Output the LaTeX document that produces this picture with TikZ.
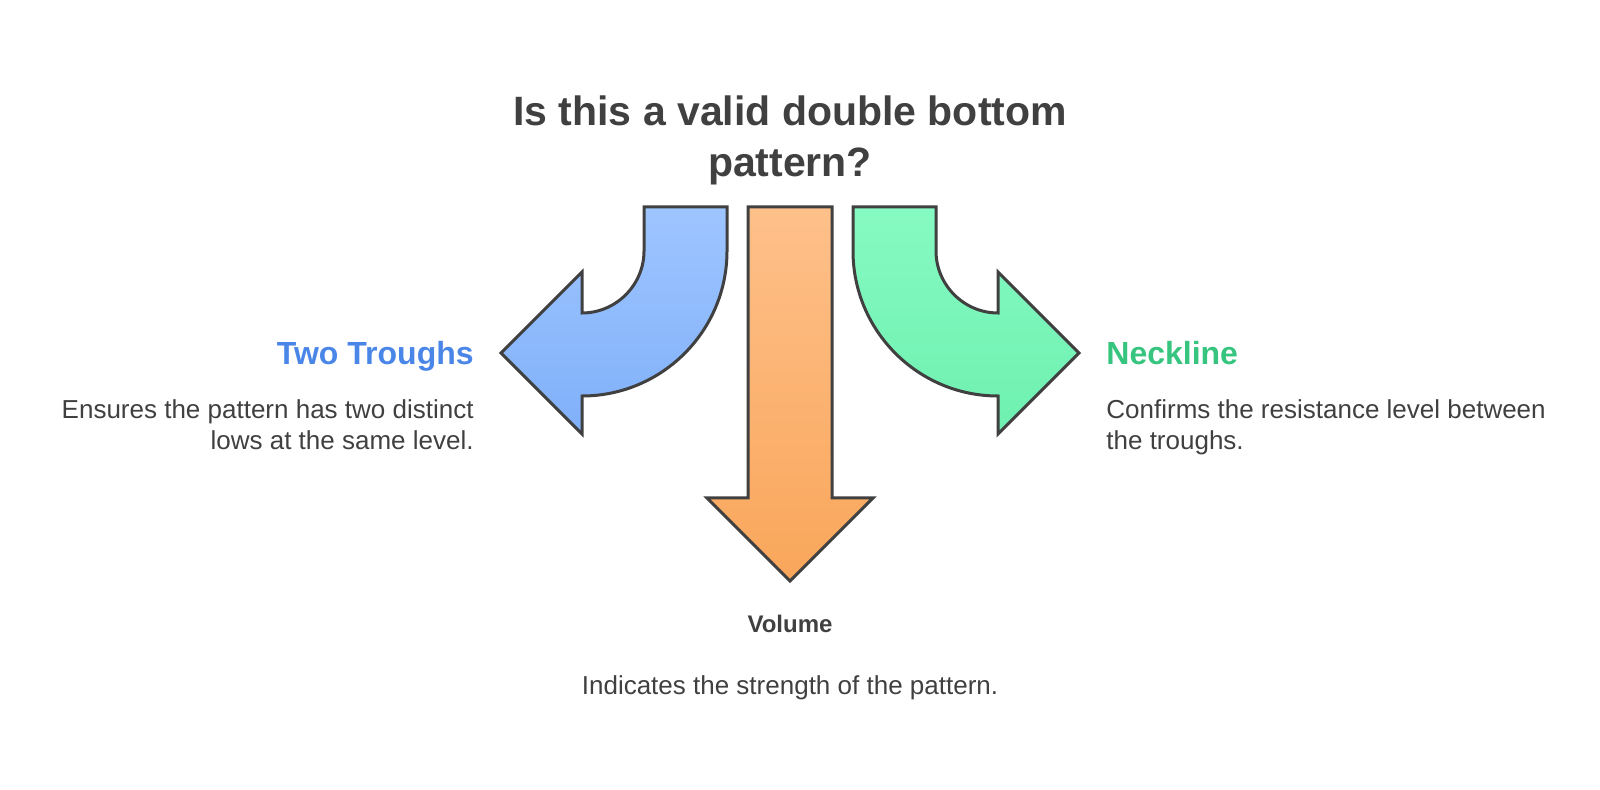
\documentclass[tikz,border=0pt]{standalone}
\usepackage{fontspec}
\setmainfont{Liberation Sans}
\usepackage{xcolor}
\definecolor{ink}{HTML}{404040}
\definecolor{troughblue}{HTML}{4A86E8}
\definecolor{neckgreen}{HTML}{36C47E}
\definecolor{blueTop}{HTML}{9EC5FF}
\definecolor{blueBot}{HTML}{80B0FA}
\definecolor{greenTop}{HTML}{86FAC2}
\definecolor{greenBot}{HTML}{6EF0B0}
\definecolor{orangeTop}{HTML}{FEC08A}
\definecolor{orangeBot}{HTML}{F9A65A}

\begin{document}
\begin{tikzpicture}[x=0.5pt,y=-0.5pt,
  arrowshape/.style={draw=ink,line width=1.5pt,line join=miter},
  heading/.style={font=\bfseries\fontsize{16}{19}\selectfont,inner sep=0pt},
  desc/.style={font=\fontsize{13}{15.5}\selectfont,text=ink,inner sep=0pt}]
\useasboundingbox (0,0) rectangle (1600,790);
\draw[arrowshape,top color=orangeTop,bottom color=orangeBot] (748,207) -- (832,207) -- (832,498) -- (873,498) -- (790,581) -- (707,498) -- (748,498) -- cycle;
\foreach \s/\ctop/\cbot in {1/blueTop/blueBot,-1/greenTop/greenBot}
\draw[arrowshape,top color=\ctop,bottom color=\cbot,shift={(790,0)},xscale=\s] (-146,207) -- (-63,207) -- (-63,251) .. controls (-63,331) and (-128,396) .. (-208,396) -- (-208,434) -- (-289,353) -- (-208,272) -- (-208,313) .. controls (-174,313) and (-146,285) .. (-146,251) -- cycle;
\node[font=\bfseries\fontsize{20.5}{25.5}\selectfont,text=ink,align=center,anchor=base,inner sep=0pt] (title) at (790,177) {Is this a valid double bottom\\pattern?};
\node[heading,text=troughblue,anchor=base east] (troughs) at (474,365) {Two Troughs};
\node[desc,align=right,anchor=base east] (troughsdesc) at (474,450) {Ensures the pattern has two distinct\\lows at the same level.};
\node[heading,text=neckgreen,anchor=base west] (neckline) at (1106,365) {Neckline};
\node[desc,align=left,anchor=base west] (necklinedesc) at (1106,450) {Confirms the resistance level between\\the troughs.};
\node[font=\bfseries\fontsize{12}{14}\selectfont,text=ink,anchor=base,inner sep=0pt] (volume) at (790,632) {Volume};
\node[desc,anchor=base] (volumedesc) at (790,694) {Indicates the strength of the pattern.};
\end{tikzpicture}
\end{document}
